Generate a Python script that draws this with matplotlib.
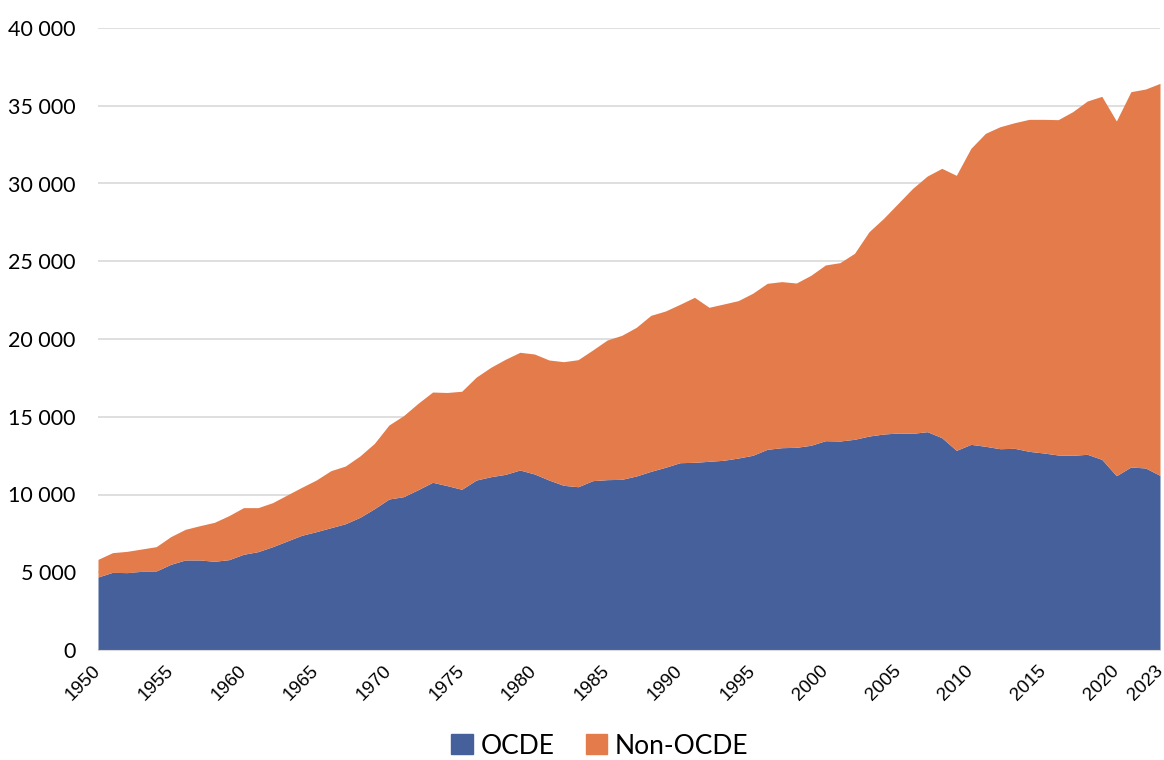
import matplotlib
matplotlib.use("Agg")
import matplotlib.pyplot as plt
from matplotlib.patches import Patch
from matplotlib.ticker import FuncFormatter

years = list(range(1950, 2024))

# OCDE emissions (bottom layer)
ocde = [4695, 4995, 4975, 5060, 5080, 5510, 5790, 5790, 5705, 5810,
        6155, 6325, 6645, 7010, 7375, 7610, 7865, 8120, 8530, 9090,
        9710, 9860, 10310, 10785, 10570, 10335, 10930, 11145, 11295, 11575,
        11320, 10930, 10590, 10500, 10890, 10955, 10975, 11190, 11490, 11750,
        12045, 12070, 12135, 12200, 12345, 12520, 12905, 13010, 13035, 13165,
        13460, 13440, 13550, 13760, 13890, 13955, 13935, 14040, 13655, 12840,
        13225, 13100, 12945, 12970, 12775, 12670, 12540, 12520, 12585, 12260,
        11210, 11770, 11705, 11230]

# world total (top of the Non-OCDE layer)
total = [5830, 6260, 6345, 6495, 6645, 7290, 7760, 7995, 8210, 8640,
         9155, 9155, 9475, 9970, 10460, 10930, 11530, 11830, 12475, 13290,
         14470, 15070, 15865, 16590, 16560, 16640, 17550, 18180, 18695, 19145,
         19035, 18650, 18540, 18670, 19290, 19935, 20235, 20750, 21520, 21800,
         22230, 22680, 22040, 22250, 22465, 22940, 23580, 23690, 23600, 24095,
         24760, 24910, 25510, 26900, 27760, 28725, 29690, 30480, 30975, 30525,
         32260, 33225, 33650, 33910, 34125, 34125, 34105, 34620, 35305, 35605,
         34020, 35905, 36075, 36440]

xticks = [1950, 1955, 1960, 1965, 1970, 1975, 1980, 1985, 1990, 1995,
          2000, 2005, 2010, 2015, 2020, 2023]
labels = ["OCDE", "Non-OCDE"]

blue = "#46609C"
orange = "#E37B4B"

fig = plt.figure(figsize=(11.64, 7.6), dpi=100)
ax = fig.add_axes([98 / 1164, 110 / 760, 1062 / 1164, 622 / 760])

ax.fill_between(years, 0, ocde, color=blue, linewidth=0)
ax.fill_between(years, ocde, total, color=orange, linewidth=0)

ax.set_xlim(1950, 2023)
ax.set_ylim(0, 40000)
ax.set_yticks(range(0, 40001, 5000))
ax.yaxis.set_major_formatter(FuncFormatter(lambda v, p: f"{v:,.0f}".replace(",", " ")))
ax.set_xticks(xticks)
ax.set_xticklabels([str(y) for y in xticks], rotation=45, ha="right", va="center",
                   rotation_mode="anchor", fontsize=13.5, family="Liberation Sans")
for t in ax.get_yticklabels():
    t.set_fontsize(15.5)
    t.set_family("Lato")

ax.grid(axis="y", color="#D9D9D9", linewidth=1.2)
ax.set_axisbelow(True)
for s in ["top", "right", "left"]:
    ax.spines[s].set_visible(False)
ax.spines["bottom"].set_color("#D9D9D9")
ax.tick_params(axis="both", length=0)
ax.tick_params(axis="y", pad=16)
ax.tick_params(axis="x", pad=13)

handles = [Patch(color=blue), Patch(color=orange)]
fig.legend(handles, labels, loc="center", bbox_to_anchor=(600 / 1164, 1 - 746 / 760),
           ncol=2, frameon=False, handlelength=0.8, handleheight=0.8,
           handletextpad=0.3, columnspacing=1.2,
           prop={"family": "Lato", "size": 19})

fig.savefig("out.png", dpi=100)
